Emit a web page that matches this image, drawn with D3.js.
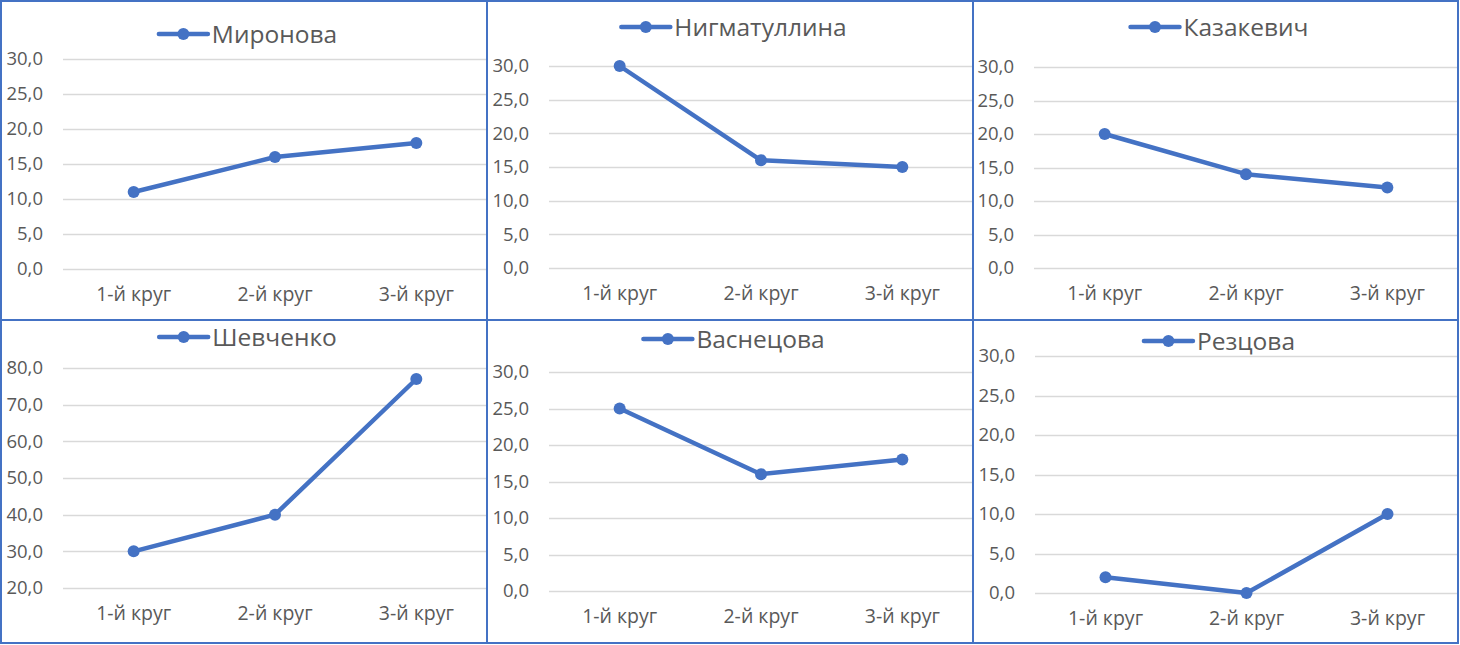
<!DOCTYPE html>
<html>
<head>
<meta charset="utf-8">
<script src="https://cdn.jsdelivr.net/npm/d3@7"></script>
<style>
  body { margin: 0; background: #fff; }
  svg { display: block; }
</style>
</head>
<body>
<div id="chart"></div>
<script>
// Data
var names = ["Миронова", "Нигматуллина", "Казакевич", "Шевченко", "Васнецова", "Резцова"];
var rounds = ["1-й круг", "2-й круг", "3-й круг"];
var mironova = [11, 16, 18];
var nigmatullina = [30, 16, 15];
var kazakevich = [20, 14, 12];
var shevchenko = [30, 40, 77];
var vasnetsova = [25, 16, 18];
var reztsova = [2, 0, 10];
var seriesValues = [mironova, nigmatullina, kazakevich, shevchenko, vasnetsova, reztsova];
var yDomains = [[0, 30], [0, 30], [0, 30], [20, 80], [0, 30], [0, 30]];
var yTickSteps = [5, 5, 5, 10, 5, 5];

// Layout of each panel (pixels)
var panels = [
  { x0: 1,   x1: 487,  y0: 1,   y1: 320, left: 63,   top: 59,  bottom: 269, legendY: 34 },
  { x0: 487, x1: 973,  y0: 1,   y1: 320, left: 549,  top: 66,  bottom: 268, legendY: 27 },
  { x0: 973, x1: 1458, y0: 1,   y1: 320, left: 1034, top: 67,  bottom: 268, legendY: 27 },
  { x0: 1,   x1: 487,  y0: 320, y1: 643, left: 63,   top: 368, bottom: 588, legendY: 337 },
  { x0: 487, x1: 973,  y0: 320, y1: 643, left: 549,  top: 372, bottom: 591, legendY: 339 },
  { x0: 973, x1: 1458, y0: 320, y1: 643, left: 1035, top: 356, bottom: 593, legendY: 341 }
];

var svgWidth = 1460;
var svgHeight = 645;
var blue = "#4472C4";
var textColor = "#595959";
var gridColor = "#d9d9d9";
var fontFamily = "'Open Sans', 'Noto Sans', sans-serif";
var fmt = function(d) { return d3.format(".1f")(d).replace(".", ","); };

var svg = d3.select("#chart").append("svg")
            .attr("width", svgWidth)
            .attr("height", svgHeight);

svg.append("rect").attr("width", svgWidth).attr("height", svgHeight).attr("fill", "#fff");

panels.forEach(function(p, i) {
  var g = svg.append("g");
  var values = seriesValues[i];

  var x = d3.scaleBand().domain(rounds).range([p.left, p.x1]);
  var y = d3.scaleLinear().domain(yDomains[i]).range([p.bottom, p.top]);
  var ticks = d3.range(yDomains[i][0], yDomains[i][1] + 0.001, yTickSteps[i]);

  // Gridlines
  g.selectAll("line.grid")
   .data(ticks)
   .enter()
   .append("line")
   .attr("x1", p.left)
   .attr("x2", p.x1)
   .attr("y1", function(d) { return Math.round(y(d)) + 0.5; })
   .attr("y2", function(d) { return Math.round(y(d)) + 0.5; })
   .attr("stroke", gridColor)
   .attr("stroke-width", 1.5);

  // Y axis labels
  var yAxis = d3.axisLeft(y).tickValues(ticks).tickFormat(fmt).tickSize(0).tickPadding(20);
  var ya = g.append("g").attr("transform", "translate(" + p.left + ",0)").call(yAxis);
  ya.select(".domain").remove();
  ya.selectAll("text")
    .attr("fill", textColor)
    .attr("font-family", fontFamily)
    .attr("font-size", "18.5px");

  // X axis labels
  var xAxis = d3.axisBottom(x).tickSize(0).tickPadding(18);
  var xa = g.append("g").attr("transform", "translate(0," + p.bottom + ")").call(xAxis);
  xa.select(".domain").remove();
  xa.selectAll("text")
    .attr("fill", textColor)
    .attr("font-family", fontFamily)
    .attr("font-size", "19.5px");

  // Line and markers
  var line = d3.line()
               .x(function(d, j) { return x(rounds[j]) + x.bandwidth() / 2; })
               .y(function(d) { return y(d); });

  g.append("path")
   .datum(values)
   .attr("d", line)
   .attr("fill", "none")
   .attr("stroke", blue)
   .attr("stroke-width", 4.5)
   .attr("stroke-linejoin", "round");

  g.selectAll("circle.pt")
   .data(values)
   .enter()
   .append("circle")
   .attr("cx", function(d, j) { return x(rounds[j]) + x.bandwidth() / 2; })
   .attr("cy", function(d) { return y(d); })
   .attr("r", 6)
   .attr("fill", blue);

  // Legend
  var leg = g.append("g");
  leg.append("line")
     .attr("x1", 0).attr("x2", 49)
     .attr("y1", 0).attr("y2", 0)
     .attr("stroke", blue)
     .attr("stroke-width", 4.5)
     .attr("stroke-linecap", "round");
  leg.append("circle").attr("cx", 24.5).attr("cy", 0).attr("r", 6).attr("fill", blue);
  var lt = leg.append("text")
              .text(names[i])
              .attr("x", 53)
              .attr("y", 0)
              .attr("dy", "0.35em")
              .attr("fill", textColor)
              .attr("font-family", fontFamily)
              .attr("font-size", "24.5px");
  var legW = 53 + lt.node().getComputedTextLength();
  var cx = (p.x0 + p.x1) / 2 + 4;
  leg.attr("transform", "translate(" + (cx - legW / 2) + "," + p.legendY + ")");
});

// Panel borders
panels.forEach(function(p) {
  svg.append("rect")
     .attr("x", p.x0)
     .attr("y", p.y0)
     .attr("width", p.x1 - p.x0)
     .attr("height", p.y1 - p.y0)
     .attr("fill", "none")
     .attr("stroke", blue)
     .attr("stroke-width", 2);
});
</script>
</body>
</html>
